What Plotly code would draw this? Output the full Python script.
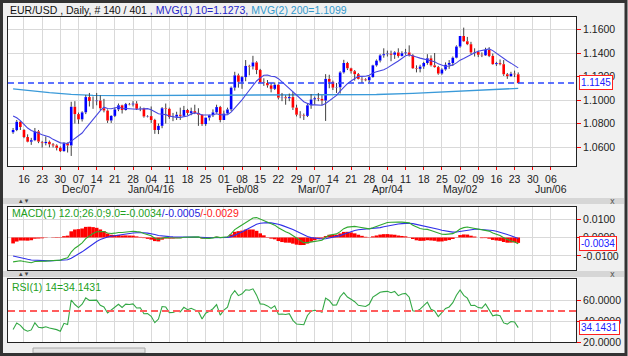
import plotly.graph_objects as go
import pandas as pd

FONT = "Liberation Sans, Arial, sans-serif"

# closes before the visible window (warm-up for MVG/MACD/RSI)
prior_close = [1.1210, 1.1315, 1.1230, 1.1120, 1.1150, 1.1170, 1.1200, 1.1150, 1.1270, 1.1340,
               1.1315, 1.1265, 1.1290, 1.1435, 1.1300, 1.1195, 1.1135, 1.1195, 1.1220, 1.1195,
               1.1235, 1.1245, 1.1175, 1.1195, 1.1210, 1.1195, 1.1265, 1.1275, 1.1275, 1.1355,
               1.1360, 1.1375, 1.1470, 1.1380, 1.1350, 1.1325, 1.1345, 1.1340, 1.1110, 1.1015,
               1.1055, 1.1045, 1.0925, 1.0975, 1.1005, 1.1015, 1.0950, 1.0865, 1.0880, 1.0740,
               1.0750, 1.0720]

open_ = [
    1.0725, 1.0745, 1.0815,
    1.0745, 1.0685, 1.0645, 1.0658, 1.0733,
    1.0640, 1.0633, 1.0644, 1.0623, 1.0613,
    1.0593, 1.0565, 1.0632, 1.0613, 1.0943,
    1.0880, 1.0835, 1.0895, 1.1025, 1.0991,
    1.0990, 1.0995, 1.0930, 1.0910, 1.0825,
    1.0865, 1.0920, 1.0955, 1.0915, 1.0965,
    1.0962, 1.0970, 1.0925, 1.0928, 1.0860,
    1.0863, 1.0830, 1.0745, 1.0780, 1.0930,
    1.0925, 1.0855, 1.0858, 1.0875, 1.0865,
    1.0915, 1.0890, 1.0905, 1.0890, 1.0875,
    1.0795, 1.0850, 1.0870, 1.0895, 1.0940,
    1.0830, 1.0885, 1.0920, 1.1105, 1.1210,
    1.1155, 1.1195, 1.1290, 1.1285, 1.1320,
    1.1255, 1.1150, 1.1145, 1.1125, 1.1095,
    1.1130, 1.1020, 1.1023, 1.1015, 1.1025,
    1.0935, 1.0875, 1.0870, 1.0865, 1.0955,
    1.1005, 1.1015, 1.1010, 1.0995, 1.1180,
    1.1155, 1.1105, 1.1108, 1.1235, 1.1315,
    1.1270, 1.1245, 1.1220, 1.1180, 1.1175,
    1.1168, 1.1195, 1.1295, 1.1335, 1.1380,
    1.1390, 1.1395, 1.1385, 1.1405, 1.1375,
    1.1398, 1.1405, 1.1380, 1.1270, 1.1265,
    1.1285, 1.1315, 1.1355, 1.1295, 1.1280,
    1.1225, 1.1260, 1.1300, 1.1315, 1.1360,
    1.1455, 1.1545, 1.1500, 1.1475, 1.1405,
    1.1408, 1.1385, 1.1380, 1.1426, 1.1375,
    1.1305, 1.1314, 1.1305, 1.1219, 1.1203,
    1.1224, 1.1219]

high = [
    1.0762, 1.0830, 1.0822,
    1.0752, 1.0708, 1.0678, 1.0762, 1.0745,
    1.0652, 1.0690, 1.0655, 1.0634, 1.0623,
    1.0605, 1.0640, 1.0639, 1.0985, 1.0990,
    1.0893, 1.0904, 1.1043, 1.1060, 1.1030,
    1.1060, 1.1040, 1.1010, 1.0920, 1.0870,
    1.0935, 1.0970, 1.0960, 1.0975, 1.0975,
    1.0990, 1.0990, 1.0945, 1.0935, 1.0870,
    1.0945, 1.0840, 1.0800, 1.0940, 1.0970,
    1.0935, 1.0890, 1.0900, 1.0935, 1.0950,
    1.0925, 1.0935, 1.0960, 1.0930, 1.0880,
    1.0850, 1.0875, 1.0920, 1.0960, 1.0950,
    1.0910, 1.0935, 1.1115, 1.1240, 1.1225,
    1.1205, 1.1340, 1.1300, 1.1376, 1.1330,
    1.1265, 1.1185, 1.1170, 1.1145, 1.1150,
    1.1135, 1.1060, 1.1040, 1.1055, 1.1070,
    1.0960, 1.0905, 1.0885, 1.0965, 1.1050,
    1.1030, 1.1060, 1.1040, 1.1220, 1.1215,
    1.1165, 1.1145, 1.1245, 1.1342, 1.1325,
    1.1275, 1.1255, 1.1230, 1.1195, 1.1185,
    1.1205, 1.1300, 1.1345, 1.1390, 1.1440,
    1.1420, 1.1420, 1.1415, 1.1440, 1.1415,
    1.1435, 1.1465, 1.1390, 1.1295, 1.1300,
    1.1325, 1.1390, 1.1380, 1.1400, 1.1290,
    1.1270, 1.1320, 1.1340, 1.1370, 1.1465,
    1.1545, 1.1616, 1.1537, 1.1495, 1.1440,
    1.1420, 1.1405, 1.1445, 1.1450, 1.1395,
    1.1325, 1.1345, 1.1340, 1.1230, 1.1240,
    1.1250, 1.1235]

low = [
    1.0712, 1.0735, 1.0745,
    1.0675, 1.0640, 1.0618, 1.0650, 1.0633,
    1.0595, 1.0614, 1.0597, 1.0596, 1.0571,
    1.0557, 1.0560, 1.0553, 1.0524, 1.0800,
    1.0797, 1.0817, 1.0880, 1.0945, 1.0925,
    1.0955, 1.0915, 1.0895, 1.0805, 1.0805,
    1.0855, 1.0905, 1.0885, 1.0910, 1.0955,
    1.0945, 1.0915, 1.0905, 1.0850, 1.0852,
    1.0805, 1.0712, 1.0710, 1.0760, 1.0800,
    1.0840, 1.0820, 1.0830, 1.0830, 1.0860,
    1.0870, 1.0870, 1.0880, 1.0780, 1.0780,
    1.0780, 1.0825, 1.0855, 1.0885, 1.0810,
    1.0830, 1.0880, 1.0905, 1.1080, 1.1105,
    1.1095, 1.1160, 1.1210, 1.1260, 1.1220,
    1.1145, 1.1120, 1.1105, 1.1065, 1.1085,
    1.1005, 1.0990, 1.0960, 1.0990, 1.0915,
    1.0860, 1.0845, 1.0830, 1.0855, 1.0925,
    1.0960, 1.0990, 1.0955, 1.0822, 1.1100,
    1.1085, 1.1060, 1.1055, 1.1225, 1.1255,
    1.1225, 1.1165, 1.1175, 1.1145, 1.1160,
    1.1150, 1.1190, 1.1285, 1.1320, 1.1360,
    1.1370, 1.1330, 1.1350, 1.1360, 1.1370,
    1.1385, 1.1370, 1.1265, 1.1235, 1.1235,
    1.1265, 1.1300, 1.1285, 1.1275, 1.1215,
    1.1215, 1.1250, 1.1265, 1.1290, 1.1355,
    1.1445, 1.1495, 1.1467, 1.1390, 1.1370,
    1.1365, 1.1365, 1.1375, 1.1365, 1.1300,
    1.1290, 1.1295, 1.1205, 1.1180, 1.1198,
    1.1195, 1.1140]

close = [
    1.0745, 1.0815, 1.0770,
    1.0685, 1.0645, 1.0658, 1.0733, 1.0646,
    1.0633, 1.0644, 1.0623, 1.0613, 1.0593,
    1.0565, 1.0632, 1.0613, 1.0943, 1.0880,
    1.0835, 1.0895, 1.1025, 1.0991, 1.0990,
    1.0995, 1.0930, 1.0910, 1.0825, 1.0865,
    1.0920, 1.0955, 1.0915, 1.0965, 1.0962,
    1.0970, 1.0925, 1.0928, 1.0860, 1.0863,
    1.0830, 1.0745, 1.0780, 1.0930, 1.0925,
    1.0855, 1.0858, 1.0875, 1.0865, 1.0915,
    1.0890, 1.0905, 1.0890, 1.0875, 1.0795,
    1.0850, 1.0870, 1.0895, 1.0940, 1.0830,
    1.0885, 1.0920, 1.1105, 1.1210, 1.1155,
    1.1195, 1.1290, 1.1285, 1.1320, 1.1255,
    1.1150, 1.1145, 1.1125, 1.1095, 1.1130,
    1.1020, 1.1023, 1.1015, 1.1025, 1.0935,
    1.0875, 1.0870, 1.0865, 1.0955, 1.1005,
    1.1015, 1.1010, 1.0995, 1.1180, 1.1155,
    1.1105, 1.1108, 1.1235, 1.1315, 1.1270,
    1.1245, 1.1220, 1.1180, 1.1175, 1.1168,
    1.1195, 1.1295, 1.1335, 1.1380, 1.1390,
    1.1395, 1.1385, 1.1405, 1.1375, 1.1398,
    1.1405, 1.1380, 1.1270, 1.1265, 1.1285,
    1.1315, 1.1355, 1.1295, 1.1280, 1.1225,
    1.1260, 1.1300, 1.1315, 1.1360, 1.1455,
    1.1545, 1.1500, 1.1475, 1.1405, 1.1408,
    1.1385, 1.1380, 1.1426, 1.1375, 1.1305,
    1.1314, 1.1305, 1.1219, 1.1203, 1.1224,
    1.1219, 1.1145]

# 200-day moving average (bar index, value)
ma200_idx = [0, 5, 10, 16, 22, 30, 40, 50, 60, 70, 80, 90, 100, 110, 120, 130, 139]
ma200_val = [1.1095, 1.1078, 1.1062, 1.1048, 1.1040, 1.1038, 1.1039, 1.1040, 1.1042, 1.1043,
             1.1043, 1.1044, 1.1047, 1.1056, 1.1069, 1.1085, 1.1099]

week_days = ["16", "23", "30", "07", "14", "21", "28", "04", "11", "18", "25", "01", "08", "15", "22",
             "29", "07", "14", "21", "28", "04", "11", "18", "25", "02", "09", "16", "23", "30", "06"]
month_labels = ["", "", "", "Dec/07", "", "", "", "Jan/04/16", "", "", "", "", "Feb/08", "", "",
                "", "Mar/07", "", "", "", "Apr/04", "", "", "", "May/02", "", "", "", "", "Jun/06"]
first_tick_bar = 3      # Nov 16 is the 4th bar
bars_per_week = 5

# ---------------- indicators ----------------
n0 = len(prior_close)
full = pd.Series(prior_close + close)
ma10 = full.rolling(10).mean().iloc[n0:].tolist()
ema12 = full.ewm(span=12, adjust=False).mean()
ema26 = full.ewm(span=26, adjust=False).mean()
macd_s = ema12 - ema26
sig_s = macd_s.ewm(span=9, adjust=False).mean()
macd = macd_s.iloc[n0:].tolist()
sig = sig_s.iloc[n0:].tolist()
hist = (macd_s - sig_s).iloc[n0:].tolist()
d = full.diff()
gain = d.clip(lower=0).ewm(alpha=1 / 14, adjust=False).mean()
loss = (-d.clip(upper=0)).ewm(alpha=1 / 14, adjust=False).mean()
rsi = (100 - 100 / (1 + gain / loss)).iloc[n0:].tolist()

x = list(range(len(close)))

# wicks (split so they do not cross the bodies)
wx, wy = [], []
for i in x:
    bl, bh = min(open_[i], close[i]), max(open_[i], close[i])
    wx += [i, i, None, i, i, None]
    wy += [low[i], bl, None, bh, high[i], None]

body_base = [min(o, c) for o, c in zip(open_, close)]
body_len = [abs(c - o) for o, c in zip(open_, close)]
body_col = ["#0000ff" if c >= o else "#ff0000" for o, c in zip(open_, close)]

tickvals = [first_tick_bar + bars_per_week * k for k in range(len(week_days))]

fig = go.Figure()
fig.add_trace(go.Scatter(x=ma200_idx, y=ma200_val, mode="lines",
                         line=dict(color="#3a9ad9", width=1.3), xaxis="x", yaxis="y"))
fig.add_trace(go.Scatter(x=wx, y=wy, mode="lines", line=dict(color="#404040", width=1),
                         xaxis="x", yaxis="y", connectgaps=False))
fig.add_trace(go.Bar(x=x, y=body_len, base=body_base, width=0.72,
                     marker=dict(color=body_col, line=dict(width=0)), xaxis="x", yaxis="y"))
fig.add_trace(go.Scatter(x=x, y=ma10, mode="lines", line=dict(color="#4646e0", width=1.1),
                         xaxis="x", yaxis="y"))

fig.add_trace(go.Bar(x=x, y=hist, width=1.0, marker=dict(color="#ff0000", line=dict(width=0)),
                     xaxis="x2", yaxis="y2"))
fig.add_trace(go.Scatter(x=x, y=sig, mode="lines", line=dict(color="#3030e8", width=1.1),
                         xaxis="x2", yaxis="y2"))
fig.add_trace(go.Scatter(x=x, y=macd, mode="lines", line=dict(color="#2fa82f", width=1.1),
                         xaxis="x2", yaxis="y2"))

fig.add_trace(go.Scatter(x=x, y=rsi, mode="lines", line=dict(color="#33a845", width=1.1),
                         xaxis="x3", yaxis="y3"))

# ---------------- layout ----------------
W, H = 628, 356
ml, mr, mt, mb = 8, 52, 17, 14
pw, ph = W - ml - mr, H - mt - mb


def px(v):
    return (v - ml) / pw


def py(v):
    return (H - mb - v) / ph


xr = [-1.4, 154.9]
grid = "#d9d9d9"
common_x = dict(range=xr, showgrid=True, gridcolor=grid, gridwidth=1, zeroline=False, automargin=False,
                tickvals=tickvals, showline=True, linecolor="#222", linewidth=1, mirror=True)
common_y = dict(side="right", showgrid=True, gridcolor=grid, zeroline=False, ticks="outside",
                ticklen=4, tickcolor="#ff0000", showline=True, linecolor="#222", linewidth=1,
                mirror=True, automargin=False, tickfont=dict(family=FONT, size=10.5, color="#222"))

fig.update_layout(
    width=W, height=H, margin=dict(l=ml, r=mr, t=mt, b=mb, pad=0, autoexpand=False),
    paper_bgcolor="#f0f0f0", plot_bgcolor="#ffffff", showlegend=False, barmode="overlay",
    font=dict(family=FONT, size=10.5, color="#222"), hovermode=False,
    xaxis=dict(common_x, domain=[0, 1], anchor="y", ticktext=week_days, ticks="outside", ticklen=3,
               tickcolor="#ff0000", tickangle=0,
               tickfont=dict(family=FONT, size=10.5, color="#222")),
    xaxis2=dict(common_x, domain=[0, 1], anchor="y2", showticklabels=False, ticks="", matches="x"),
    xaxis3=dict(common_x, domain=[0, 1], anchor="y3", showticklabels=False, ticks="", matches="x"),
    yaxis=dict(common_y, domain=[py(166), 1], anchor="x", range=[1.04384, 1.17064],
               tickvals=[1.06, 1.08, 1.10, 1.12, 1.14, 1.16], tickformat=".4f"),
    yaxis2=dict(common_y, domain=[py(270), py(207)], anchor="x2", range=[-0.0176, 0.0165],
                tickvals=[-0.01, 0.0, 0.01], ticktext=["-0.0100", "0.0000", "0.0100"]),
    yaxis3=dict(common_y, domain=[0, py(279)], anchor="x3", range=[20, 81],
                tickvals=[20, 40, 60], ticktext=["20.0000", "40.0000", "60.0000"]),
)

shapes = []
# last price dashed line and RSI 50 line
shapes.append(dict(type="line", xref="paper", yref="y", x0=0, x1=1, y0=close[-1], y1=close[-1],
                   line=dict(color="#2a46ff", width=1.5, dash="6px,4px")))
shapes.append(dict(type="line", xref="paper", yref="y3", x0=0, x1=1, y0=50, y1=50,
                   line=dict(color="#ff5c5c", width=2, dash="7px,4px")))
# separator bands
for top, bot in [(198, 204), (271, 277)]:
    shapes.append(dict(type="rect", xref="paper", yref="paper", x0=px(3), x1=px(624),
                       y0=py(bot), y1=py(top), line=dict(width=0), fillcolor="#d6d6d6", layer="below"))
# scrollbar thumb
shapes.append(dict(type="rect", xref="paper", yref="paper", x0=px(33), x1=px(145),
                   y0=py(353), y1=py(348), line=dict(color="#a8a8a8", width=1), fillcolor="#e4e4e4"))
# outer frame
shapes.append(dict(type="rect", xref="paper", yref="paper", x0=px(1.5), x1=px(626), y0=py(354.5),
                   y1=py(1.5), line=dict(color="#333333", width=3), fillcolor="rgba(0,0,0,0)"))
fig.update_layout(shapes=shapes)

ann = []
ann.append(dict(xref="paper", yref="paper", x=px(8), y=py(10), xanchor="left", yanchor="middle",
                showarrow=False, font=dict(family=FONT, size=10.5, color="#111"),
                text="EUR/USD , Daily, # 140 / 401<span style='color:#2323c8'> , MVG(1) 10=1.1273,</span>"
                     "<span style='color:#3399cc'> MVG(2) 200=1.1099</span>"))
ann.append(dict(xref="paper", yref="paper", x=px(10), y=py(213), xanchor="left", yanchor="middle",
                showarrow=False, font=dict(family=FONT, size=10.5, color="#22a022"),
                text="MACD(1) 12.0;26.0;9.0=-0.0034<span style='color:#2323e0'>/-0.0005</span>"
                     "<span style='color:#ff2020'>/-0.0029</span>"))
ann.append(dict(xref="paper", yref="paper", x=px(10), y=py(287), xanchor="left", yanchor="middle",
                showarrow=False, font=dict(family=FONT, size=10.5, color="#22a022"),
                text="RSI(1) 14=34.1431"))
# month labels under their week ticks
for tv, m in zip(tickvals, month_labels):
    if m:
        ann.append(dict(xref="x", yref="paper", x=tv, y=py(189), xanchor="center", yanchor="middle",
                        showarrow=False, text=m, font=dict(family=FONT, size=10.5, color="#222")))
for yref, val, txt in [("y", close[-1], "1.1145"), ("y2", -0.0034, "-0.0034"), ("y3", 34.1431, "34.1431")]:
    ann.append(dict(xref="paper", yref=yref, x=px(579), y=val, xanchor="left", yanchor="middle",
                    showarrow=False, text=txt, bgcolor="#ffffff", bordercolor="#ff2020", borderwidth=1,
                    borderpad=1, font=dict(family=FONT, size=10, color="#2020ff")))
# panel icons
for yy in [201, 274]:
    ann.append(dict(xref="paper", yref="paper", x=px(24), y=py(yy), xanchor="center", yanchor="middle",
                    showarrow=False, text="▴ ▾", font=dict(family="DejaVu Sans", size=7, color="#444")))
    ann.append(dict(xref="paper", yref="paper", x=px(612), y=py(yy), xanchor="center", yanchor="middle",
                    showarrow=False, text="x", font=dict(family="DejaVu Sans", size=8, color="#555")))
fig.update_layout(annotations=ann)

fig.write_html("out.html", config={"displayModeBar": False, "staticPlot": True},
               post_script="document.body.style.margin='0';document.body.style.padding='0';"
                           "document.documentElement.style.overflow='hidden';")
